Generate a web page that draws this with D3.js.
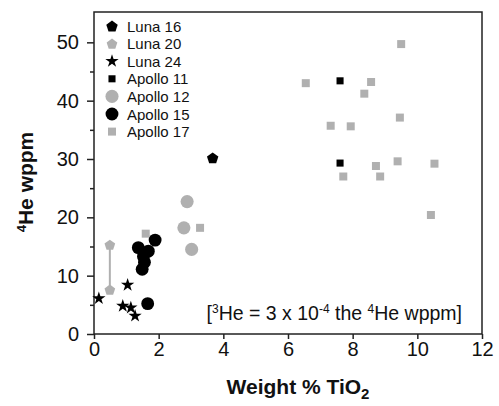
<!DOCTYPE html>
<html>
<head>
<meta charset="utf-8">
<script src="https://cdn.jsdelivr.net/npm/d3@7"></script>
<style>
  html, body { margin: 0; padding: 0; background: #fff; }
  svg { display: block; font-family: "Liberation Sans", Arial, Helvetica, sans-serif; }
</style>
</head>
<body>
<svg id="chart" width="499" height="406"></svg>
<script>
// ---- data (Weight % TiO2, 4He wppm) ----
const luna16 = [[3.67, 30.2]];
const luna20 = [[0.49, 15.3], [0.49, 7.6]];
const luna24 = [[0.15, 6.1], [1.04, 8.4], [0.89, 4.8], [1.14, 4.5], [1.27, 3.1]];
const apollo11 = [[7.61, 43.4], [7.61, 29.3]];
const apollo12 = [[2.88, 22.7], [2.78, 18.2], [3.02, 14.5]];
const apollo15 = [[1.37, 14.8], [1.89, 16.1], [1.68, 14.2], [1.53, 13.3], [1.56, 12.3], [1.49, 11.1], [1.66, 5.2]];
const apollo17 = [[1.6, 17.2], [3.28, 18.2], [6.55, 43.0], [9.50, 49.7], [8.57, 43.2], [8.36, 41.2],
                  [9.46, 37.1], [7.32, 35.7], [7.94, 35.6], [9.39, 29.6], [8.72, 28.8], [7.71, 27.0],
                  [8.85, 27.0], [10.53, 29.2], [10.42, 20.4]];
const xTicks = [0, 2, 4, 6, 8, 10, 12];
const yTicks = [0, 10, 20, 30, 40, 50];
const yMinorTicks = [5, 15, 25, 35, 45];
const legendNames = ["Luna 16", "Luna 20", "Luna 24", "Apollo 11", "Apollo 12", "Apollo 15", "Apollo 17"];

const GRAY = "#b0b0b0", BLACK = "#000";

const svg = d3.select("#chart");
const L = 94, R = 482, T = 12, B = 334;
const x = d3.scaleLinear().domain([0, 12]).range([L, R]);
const y = d3.scaleLinear().domain([0, 55.2]).range([B, T]);

// pentagon symbol
const pentagon = {
  draw(ctx, size) {
    const r = Math.sqrt(size / 2.3776);
    for (let k = 0; k < 5; k++) {
      const a = -Math.PI / 2 + k * 2 * Math.PI / 5;
      const px = r * Math.cos(a), py = r * Math.sin(a) + r * 0.1;
      if (k === 0) ctx.moveTo(px, py); else ctx.lineTo(px, py);
    }
    ctx.closePath();
  }
};

const styles = {
  "Luna 16":  { type: pentagon, size: 85, fill: BLACK, data: luna16 },
  "Luna 20":  { type: pentagon, size: 75, fill: GRAY, data: luna20 },
  "Luna 24":  { type: d3.symbolStar, size: 55, fill: BLACK, data: luna24 },
  "Apollo 11":{ type: d3.symbolSquare, size: 50, fill: BLACK, data: apollo11 },
  "Apollo 12":{ type: d3.symbolCircle, size: 135, fill: GRAY, data: apollo12 },
  "Apollo 15":{ type: d3.symbolCircle, size: 130, fill: BLACK, data: apollo15 },
  "Apollo 17":{ type: d3.symbolSquare, size: 64, fill: GRAY, data: apollo17 }
};

// frame
svg.append("rect").attr("x", L).attr("y", T).attr("width", R - L).attr("height", B - T)
  .attr("fill", "none").attr("stroke", "#222").attr("stroke-width", 1.5);

// x axis
const xAxis = svg.append("g").attr("transform", `translate(0,${B})`)
  .call(d3.axisBottom(x).tickValues(xTicks).tickSize(5).tickPadding(3).tickFormat(d3.format("d")));
xAxis.select(".domain").remove();
xAxis.selectAll("line").attr("stroke", "#222").attr("stroke-width", 1.5);
xAxis.selectAll("text").attr("font-size", 20).attr("fill", "#111");

// y axis
const yAxis = svg.append("g").attr("transform", `translate(${L},0)`)
  .call(d3.axisLeft(y).tickValues(yTicks).tickSize(7).tickPadding(8).tickFormat(d3.format("d")));
yAxis.select(".domain").remove();
yAxis.selectAll("line").attr("stroke", "#222").attr("stroke-width", 1.5);
yAxis.selectAll("text").attr("font-size", 20).attr("fill", "#111");
const yMinor = svg.append("g").attr("transform", `translate(${L},0)`)
  .call(d3.axisLeft(y).tickValues(yMinorTicks).tickSize(4).tickFormat(""));
yMinor.select(".domain").remove();
yMinor.selectAll("line").attr("stroke", "#222").attr("stroke-width", 1.5);

// axis titles
const xt = svg.append("text").attr("x", 298).attr("y", 394).attr("text-anchor", "middle")
  .attr("font-size", 21).attr("font-weight", "bold").attr("fill", "#111");
xt.append("tspan").text("Weight % TiO");
xt.append("tspan").attr("font-size", 15).attr("dy", 5).text("2");

const yt = svg.append("text").attr("transform", "translate(33,182) rotate(-90)")
  .attr("text-anchor", "middle").attr("font-size", 21).attr("font-weight", "bold").attr("fill", "#111");
yt.append("tspan").attr("font-size", 13).attr("dy", -7).text("4");
yt.append("tspan").attr("dy", 7).text("He wppm");

// Luna 20 connecting line
svg.append("line")
  .attr("x1", x(luna20[0][0])).attr("y1", y(luna20[0][1]))
  .attr("x2", x(luna20[1][0])).attr("y2", y(luna20[1][1]))
  .attr("stroke", GRAY).attr("stroke-width", 2);

// points (draw order: gray first then black)
const order = ["Apollo 17", "Apollo 12", "Luna 20", "Apollo 11", "Luna 16", "Luna 24", "Apollo 15"];
order.forEach(name => {
  const s = styles[name];
  svg.append("g").selectAll("path").data(s.data).join("path")
    .attr("transform", d => `translate(${x(d[0])},${y(d[1])})`)
    .attr("d", d3.symbol(s.type, s.size))
    .attr("fill", s.fill);
});

// legend
const lg = svg.append("g");
legendNames.forEach((name, i) => {
  const s = styles[name];
  const cy = 26 + i * 17.6;
  lg.append("path").attr("transform", `translate(112,${cy})`)
    .attr("d", d3.symbol(s.type, s.size)).attr("fill", s.fill);
  lg.append("text").attr("x", 127).attr("y", cy + 5.5).attr("font-size", 15).attr("fill", "#111").text(name);
});

// annotation
const an = svg.append("text").attr("x", 462).attr("y", 320).attr("text-anchor", "end")
  .attr("font-size", 19.5).attr("fill", "#111");
an.append("tspan").text("[");
an.append("tspan").attr("font-size", 12).attr("dy", -7).text("3");
an.append("tspan").attr("dy", 7).text("He = 3 x 10");
an.append("tspan").attr("font-size", 12).attr("dy", -7).text("-4");
an.append("tspan").attr("dy", 7).text(" the ");
an.append("tspan").attr("font-size", 12).attr("dy", -7).text("4");
an.append("tspan").attr("dy", 7).text("He wppm]");
</script>
</body>
</html>
